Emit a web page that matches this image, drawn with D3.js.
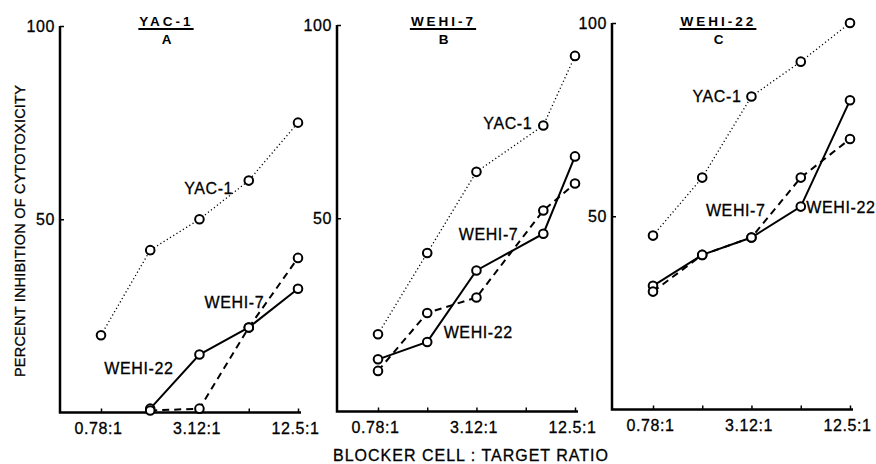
<!DOCTYPE html>
<html>
<head>
<meta charset="utf-8">
<script src="https://cdn.jsdelivr.net/npm/d3@7"></script>
<style>
    body { margin: 0; background: #fff; }
    svg { display: block; font-family: "Liberation Sans", Arial, sans-serif; }
    .axis-line { stroke: #000; stroke-width: 2.5; fill: none; }
    .lbl { font-size: 16px; fill: #000; stroke: #000; stroke-width: 0.3px; letter-spacing: 0.6px; }
</style>
</head>
<body>
<svg id="chart" width="876" height="464"></svg>
<script>
// blocker : target ratios (tick positions, log spaced)
let ratioTicks = [0.78, 1.56, 3.12, 6.25, 12.5];
let tickLabels = ["0.78:1", "", "3.12:1", "", "12.5:1"];
let yTicks = [50, 100];

// one entry per panel (target cell)
let panelTitles = ["YAC-1", "WEHI-7", "WEHI-22"];
let panelLetters = ["A", "B", "C"];

// ratios the points were plotted at (panel B's 4th point sits off its tick)
let pointRatios = [
    [0.78, 1.56, 3.12, 6.25, 12.5],
    [0.78, 1.56, 3.12, 8, 12.5],
    [0.78, 1.56, 3.12, 6.25, 12.5]
];

// percent inhibition of cytotoxicity, by blocker cell
let yac1 = [
    [20, 42, 50, 60, 75],
    [20, 41, 62, 74, 92],
    [45, 60, 81, 90, 100]
];
let wehi22 = [
    [null, 1, 15, 22, 32],
    [13.5, 18, 36.5, 46, 66],
    [32, 40, 44.5, 52.5, 80]
];
let wehi7 = [
    [null, 0.5, 1, 22, 40],
    [10.5, 25.5, 29.5, 52, 59],
    [30.5, 40, 44.5, 60, 70]
];

let series = [
    {name: "YAC-1", values: yac1, dash: "1.2,2.6", width: 1.3},
    {name: "WEHI-22", values: wehi22, dash: null, width: 2},
    {name: "WEHI-7", values: wehi7, dash: "7,5", width: 2}
];

// line labels: [ratio, value] in data space
let labelSpots = [
    {"YAC-1": [3.55, 58], "WEHI-7": [5.1, 28.6], "WEHI-22": [1.33, 11.3]},
    {"YAC-1": [4.85, 74.5], "WEHI-7": [3.7, 45.9], "WEHI-22": [3.2, 20.4]},
    {"YAC-1": [1.92, 81], "WEHI-7": [2.5, 51.6], "WEHI-22": [11, 52.4]}
];

// panel layout
let panelLeft = [60, 337, 612];
let panelBottom = [412.5, 411.5, 409.5];
let plotHeight = 386.5;
let firstOffset = 41;
let lastOffset = 238;

let svg = d3.select("#chart");

function drawPanel(p) {
    let left = panelLeft[p];
    let bottom = panelBottom[p];

    let x = d3.scaleLog()
        .base(2)
        .domain([ratioTicks[0], ratioTicks[ratioTicks.length - 1]])
        .range([left + firstOffset, left + lastOffset]);
    let y = d3.scaleLinear()
        .domain([0, 100])
        .range([bottom, bottom - plotHeight]);

    let g = svg.append("g");

    // axis lines
    g.append("path")
        .attr("class", "axis-line")
        .attr("d", `M${left},${y(100)}V${bottom}H${x(12.5) + 3}`);

    // x axis ticks + labels
    let xAxis = d3.axisBottom(x)
        .tickValues(ratioTicks)
        .tickSizeInner(-4)
        .tickSizeOuter(0)
        .tickPadding(10)
        .tickFormat((d, i) => tickLabels[i]);
    let xg = g.append("g")
        .attr("transform", `translate(0,${bottom})`)
        .call(xAxis);
    xg.select(".domain").remove();
    xg.selectAll("line").attr("stroke-width", 1.5);
    xg.selectAll("text")
        .attr("class", "lbl")
        .attr("font-size", null)
        .attr("font-family", null)
        .attr("dx", -3);

    // y axis ticks + labels
    let yAxis = d3.axisLeft(y)
        .tickValues(yTicks)
        .tickSizeInner(-4)
        .tickSizeOuter(0)
        .tickPadding(5);
    let yg = g.append("g")
        .attr("transform", `translate(${left},0)`)
        .call(yAxis);
    yg.select(".domain").remove();
    yg.selectAll("line").attr("stroke-width", 1.5);
    yg.selectAll("text").attr("class", "lbl").attr("font-size", null).attr("font-family", null);

    // title
    let cx = (x(0.78) + x(12.5)) / 2 - 33;
    let title = g.append("text")
        .attr("x", cx)
        .attr("y", 26)
        .attr("text-anchor", "middle")
        .attr("font-weight", "bold")
        .attr("font-size", 13.5)
        .attr("letter-spacing", 3)
        .text(panelTitles[p]);
    let tw = title.node().getComputedTextLength();
    g.append("line")
        .attr("x1", cx - tw / 2 - 1)
        .attr("x2", cx + tw / 2)
        .attr("y1", 29)
        .attr("y2", 29)
        .attr("stroke", "#000")
        .attr("stroke-width", 2);
    g.append("text")
        .attr("x", cx)
        .attr("y", 44)
        .attr("text-anchor", "middle")
        .attr("font-weight", "bold")
        .attr("font-size", 13.5)
        .text(panelLetters[p]);

    // series lines + markers
    let line = d3.line()
        .defined(d => d.v != null)
        .x(d => x(d.r))
        .y(d => y(d.v));

    for (let s of series) {
        let pts = pointRatios[p].map((r, i) => ({r: r, v: s.values[p][i]}));
        g.append("path")
            .datum(pts)
            .attr("fill", "none")
            .attr("stroke", "#000")
            .attr("stroke-width", s.width)
            .attr("stroke-dasharray", s.dash)
            .attr("d", line);
        g.selectAll(null)
            .data(pts.filter(d => d.v != null))
            .enter()
            .append("circle")
                .attr("cx", d => x(d.r))
                .attr("cy", d => y(d.v))
                .attr("r", 4.3)
                .attr("fill", "#fff")
                .attr("stroke", "#000")
                .attr("stroke-width", 2);

        let spot = labelSpots[p][s.name];
        g.append("text")
            .attr("class", "lbl")
            .attr("x", x(spot[0]))
            .attr("y", y(spot[1]))
            .attr("dy", "0.35em")
            .attr("text-anchor", "middle")
            .text(s.name);
    }
}

for (let p = 0; p < panelTitles.length; p++) {
    drawPanel(p);
}

// shared axis titles
svg.append("text")
    .attr("class", "lbl")
    .attr("transform", "translate(20,231) rotate(-90)")
    .attr("text-anchor", "middle")
    .attr("dy", "0.35em")
    .style("font-size", "14.5px")
    .style("letter-spacing", "0.2px")
    .text("PERCENT INHIBITION OF CYTOTOXICITY");

svg.append("text")
    .attr("class", "lbl")
    .attr("x", 471)
    .attr("y", 461)
    .attr("text-anchor", "middle")
    .style("font-size", "16px")
    .style("letter-spacing", "1px")
    .text("BLOCKER CELL : TARGET RATIO");
</script>
</body>
</html>
